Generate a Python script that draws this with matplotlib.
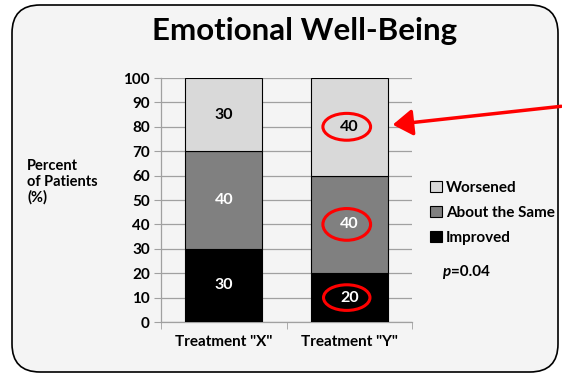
import matplotlib
matplotlib.use("Agg")
import matplotlib.pyplot as plt
import numpy as np
from matplotlib.patches import FancyBboxPatch, Ellipse, FancyArrowPatch

plt.rcParams['font.family'] = ['Lato', 'DejaVu Sans']
plt.rcParams['font.weight'] = 'bold'

categories = ['Treatment "X"', 'Treatment "Y"']
improved = [30, 20]
about_same = [40, 40]
worsened = [30, 40]
series_names = ['Worsened', 'About the Same', 'Improved']
series_colors = ['#d9d9d9', '#808080', '#000000']
label_colors = ['black', 'white', 'white']
yticks = list(range(0, 101, 10))
p_value = 'p=0.04'

W, H = 562, 376
fig = plt.figure(figsize=(W / 100, H / 100), dpi=100)
fig.patch.set_facecolor('white')

# rounded panel behind everything
panel = FancyBboxPatch((12 / W, 4 / H), (546 / W), (367 / H),
                       boxstyle="round,pad=0,rounding_size=0.05",
                       transform=fig.transFigure, facecolor='#f4f4f4',
                       edgecolor='black', linewidth=1.2, mutation_aspect=W / H,
                       zorder=-5)
fig.patches.append(panel)

ax = fig.add_axes([161 / W, 1 - 322 / H, 251 / W, 244 / H])
ax.set_facecolor('none')
ax.set_zorder(2)

x = np.arange(len(categories))
bottoms = np.zeros(len(categories))
stack = [improved, about_same, worsened]
stack_colors = series_colors[::-1]
stack_label_colors = label_colors[::-1]
handles = []
for vals, col, lcol in zip(stack, stack_colors, stack_label_colors):
    bars = ax.bar(x, vals, bottom=bottoms, width=0.61, color=col,
                  edgecolor='black', linewidth=0.8, zorder=3)
    handles.append(bars)
    for xi, b, v in zip(x, bottoms, vals):
        ax.text(xi, b + v / 2, f'{v}', ha='center', va='center',
                color=lcol, fontsize=11.5, fontweight='bold', zorder=5)
    bottoms = bottoms + np.array(vals)

ax.set_xlim(-0.5, 1.5)
ax.set_ylim(0, 100)
ax.set_yticks(yticks)
ax.set_yticklabels([str(t) for t in yticks], fontsize=11, fontweight='bold')
ax.set_xticks(x)
ax.set_xticklabels(categories, fontsize=11, fontweight='bold')
ax.tick_params(axis='x', length=0, pad=9)
ax.tick_params(axis='y', length=5, color='#a0a0a0', pad=3)
ax.set_xticks([-0.5, 0.5, 1.5], minor=True)
ax.tick_params(axis='x', which='minor', length=5, color='#a0a0a0')
ax.yaxis.grid(True, color='#a0a0a0', linewidth=0.9, zorder=0)
ax.set_axisbelow(True)
for s in ['top', 'right']:
    ax.spines[s].set_visible(False)
for s in ['left', 'bottom']:
    ax.spines[s].set_color('#a0a0a0')
    ax.spines[s].set_linewidth(0.9)

# highlight ellipses on treatment Y values
y_idx = 1
centers = [improved[y_idx] / 2,
           improved[y_idx] + about_same[y_idx] / 2,
           improved[y_idx] + about_same[y_idx] + worsened[y_idx] / 2]
for cy, (w, h) in zip(centers, [(0.37, 10.5), (0.38, 13), (0.38, 11)]):
    ax.add_patch(Ellipse((y_idx - 0.02, cy), w, h, fill=False,
                         edgecolor='red', linewidth=2.2, zorder=6))

# arrow pointing at the top segment
fig.patches.append(FancyArrowPatch(
    (564 / W, 1 - 106 / H), (390 / W, 1 - 125 / H), transform=fig.transFigure,
    arrowstyle='-|>,head_length=6,head_width=4', color='red', linewidth=2.5,
    mutation_scale=2, zorder=10))

fig.text(305 / W, 1 - 31 / H, 'Emotional Well-Being', ha='center', va='center',
         fontsize=22.5, fontweight='bold')
fig.text(27 / W, 1 - 182 / H, 'Percent\nof Patients\n(%)', ha='left', va='center',
         fontsize=10.5, fontweight='bold', linespacing=1.15)

leg = fig.legend([handles[2], handles[1], handles[0]], series_names,
                 loc='upper left', bbox_to_anchor=(424 / W, 1 - 175 / H),
                 frameon=False, fontsize=11, handlelength=0.75, handleheight=0.75,
                 handletextpad=0.3, labelspacing=0.7, borderaxespad=0)
for t in leg.get_texts():
    t.set_fontweight('bold')

t1 = fig.text(442 / W, 1 - 272 / H, p_value[0], ha='left', va='center', fontsize=11,
              fontweight='bold', fontstyle='italic')
fig.canvas.draw()
bb = t1.get_window_extent()
fig.text((bb.x1 + 0.5) / W, 1 - 272 / H, p_value[1:], ha='left', va='center',
         fontsize=11, fontweight='bold')

fig.savefig('out.png', dpi=100)
